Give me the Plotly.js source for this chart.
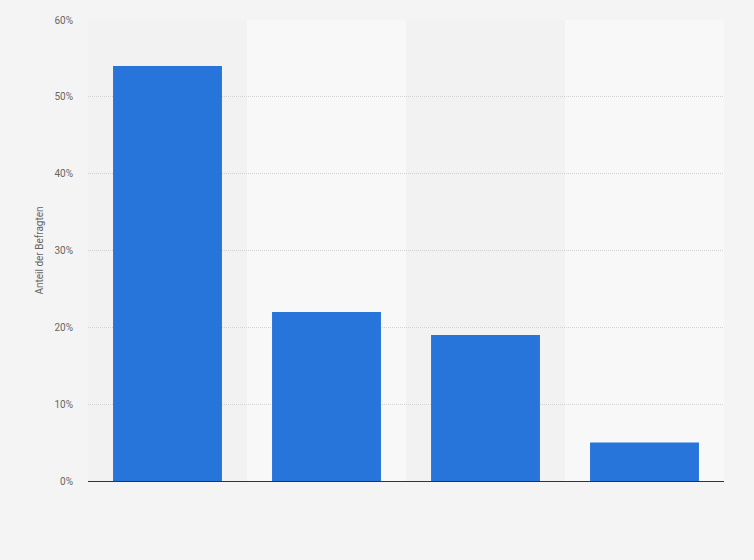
<!DOCTYPE html>
<html>
<head>
<meta charset="utf-8">
<script src="https://cdn.plot.ly/plotly-3.0.1.min.js"></script>
<style>
  html, body { margin: 0; padding: 0; background: #f4f4f4; }
  #chart { width: 754px; height: 560px; }
</style>
</head>
<body>
<div id="chart"></div>
<script>
// categories are not labelled in the picture
const categories = ['Antwort 1', 'Antwort 2', 'Antwort 3', 'Antwort 4']
const shares = [54, 22, 19, 5]
const yTicks = [0, 10, 20, 30, 40, 50, 60]
const yTickLabels = yTicks.map(v => v + '%')

// alternating column bands behind the bars
let bands = categories.map((c, i) => ({
    type: 'rect', xref: 'x', yref: 'paper', layer: 'below',
    x0: i - 0.5, x1: i + 0.5, y0: 0, y1: 1,
    fillcolor: i % 2 ? '#f8f8f8' : '#f2f2f2',
    line: { width: 0 },
}))

const data = [{
    type: 'bar',
    x: categories.map((c, i) => i),
    y: shares,
    width: 0.685,
    marker: { color: '#2775db', line: { width: 0 } },
    hoverinfo: 'none',
}]

const layout = {
    width: 754, height: 560,
    margin: { l: 88, r: 30, t: 20, b: 79 },
    paper_bgcolor: '#f4f4f4',
    plot_bgcolor: '#f4f4f4',
    font: { family: 'Roboto, Arial, sans-serif', color: '#666', size: 10 },
    showlegend: false,
    shapes: bands,
    xaxis: {
        range: [-0.5, categories.length - 0.5],
        showticklabels: false, showgrid: false, zeroline: false,
        showline: false, ticks: '',
    },
    yaxis: {
        range: [0, 60],
        tickvals: yTicks, ticktext: yTickLabels,
        gridcolor: '#d2d2d2', griddash: '1px,1px', gridwidth: 1,
        zeroline: true, zerolinecolor: '#333', zerolinewidth: 1,
        ticks: '', ticklabelstandoff: 14,
        tickfont: { size: 10, color: '#666' },
        title: { text: 'Anteil der Befragten', font: { size: 10, color: '#666' }, standoff: 8 },
    },
}

Plotly.newPlot('chart', data, layout, { staticPlot: true })
</script>
</body>
</html>
